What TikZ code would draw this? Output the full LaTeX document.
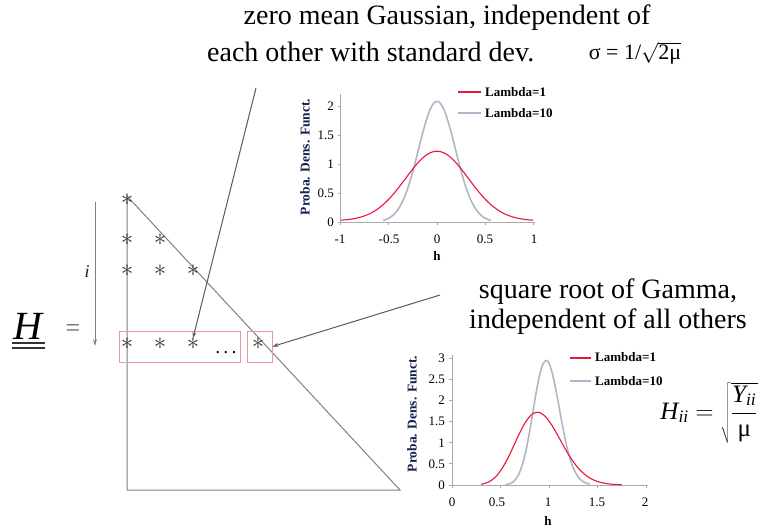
\documentclass[tikz,border=0pt]{standalone}
\usepackage{fontspec}
\setmainfont{Liberation Serif}
\usetikzlibrary{arrows.meta}
\definecolor{lgray}{RGB}{128,128,128}
\definecolor{axgray}{RGB}{170,170,170}
\definecolor{pinkbox}{RGB}{238,150,160}
\definecolor{redcurve}{RGB}{235,20,60}
\definecolor{graycurve}{RGB}{180,180,200}
\definecolor{starcol}{RGB}{55,55,55}
\definecolor{navy}{RGB}{20,30,80}
\begin{document}
\begin{tikzpicture}[x=1pt,y=-1pt,
  bigtext/.style={font=\fontsize{28}{30}\selectfont, inner sep=0pt},
  starnode/.style={font=\fontsize{28}{28}\selectfont, text=starcol, inner sep=0pt},
  rectbox/.style={draw=pinkbox, line width=0.9pt, inner sep=0pt},
  mline/.style={draw=lgray, line width=1pt},
  arr/.style={draw=lgray!70!black, line width=1pt, -{Stealth[length=6pt,width=4pt]}},
  tick/.style={font=\fontsize{13}{13}\selectfont, inner sep=1pt},
  leg/.style={font=\bfseries\fontsize{13}{13}\selectfont, anchor=west, inner sep=0pt},
  ylab/.style={font=\bfseries\fontsize{13.5}{14}\selectfont, rotate=90, inner sep=0pt, text=navy},
  axis/.style={draw=axgray, line width=0.8pt},
  rcurve/.style={draw=redcurve, line width=1.1pt},
  gcurve/.style={draw=graycurve, line width=1.6pt}
]
\useasboundingbox (0,0) rectangle (760,531);

% top caption
\node[bigtext] (t1) at (447,18) {zero mean Gaussian, independent of};
\node[bigtext, anchor=west] (t2) at (207,52) {each other with standard dev.};
\node[font=\fontsize{22}{22}\selectfont, inner sep=0pt] (sig) at (635,53) {σ = 1/$\sqrt{\mbox{2μ}}$};

% right caption
\node[bigtext] (g1) at (608,292) {square root of Gamma,};
\node[bigtext] (g2) at (608,322) {independent of all others};
\node[font=\fontsize{25}{25}\selectfont, inner sep=0pt] (hii) at (709,413)
  {$\mathit{H}_{\mathit{ii}} = \sqrt{\displaystyle\frac{\mathit{Y}_{\mathit{ii}}}{\mbox{μ}}}$};

% matrix triangle
\draw[mline] (127,196) -- (127,490) -- (400,490) -- cycle;

% asterisks
\node[starnode] (a11) at (127,200) {$\ast$};
\node[starnode] (a21) at (127,240) {$\ast$};
\node[starnode] (a22) at (160,240) {$\ast$};
\node[starnode] (a31) at (127,271) {$\ast$};
\node[starnode] (a32) at (160,271) {$\ast$};
\node[starnode] (a33) at (193,271) {$\ast$};
\node[starnode] (a41) at (127,344) {$\ast$};
\node[starnode] (a42) at (160,344) {$\ast$};
\node[starnode] (a43) at (193,344) {$\ast$};
\node[starnode] (a44) at (258,344) {$\ast$};
\node[font=\bfseries\fontsize{14}{14}\selectfont, inner sep=0pt] (dots) at (226,353) {. . .};

% pink boxes
\node[rectbox, minimum width=121pt, minimum height=31pt] (rowbox) at (179.5,346.5) {};
\node[rectbox, minimum width=25pt, minimum height=31pt] (diagbox) at (259.5,346.5) {};

% H =
\node[font=\itshape\fontsize{40}{40}\selectfont, inner sep=0pt] (H) at (28,326) {H};
\draw[draw=black!80, line width=1.1pt] (12,343) -- (45,343) (12,348) -- (45,348);
\node[font=\fontsize{26}{26}\selectfont, text=lgray!80!black, inner sep=0pt] (eq) at (73,331) {=};

% i arrow
\coordinate (itop) at (95,202);
\coordinate (ibot) at (95,346);
\draw[arr, draw=lgray, -{Stealth[length=7pt,width=4pt]}] (itop) -- (ibot);
\node[font=\itshape\fontsize{18}{18}\selectfont, text=navy, inner sep=0pt] (ilab) at (87,272) {i};

% pointer arrows
\coordinate (p1) at (256,88);
\coordinate (p2) at (440,295);
\draw[arr] (p1) -- (a43.north);
\draw[arr] (p2) -- (diagbox.east);

% ---------- top chart ----------
\begin{scope}[shift={(437,222)}, xscale=96.5, yscale=-58]
  \draw[axis] (-1,0) -- (1.02,0);
  \draw[axis] (-1,0) -- (-1,2.2);
  \foreach \v in {0,0.5,1,1.5,2} \draw[axis] (-1.03,\v) -- (-1,\v);
  \foreach \v in {-1,-0.5,0,0.5,1} \draw[axis] (\v,0) -- (\v,-0.06);
  \draw[gcurve] plot[domain=-0.56:0.56, samples=90, smooth] (\x,{2.08*exp(-\x*\x/(2*0.0361))});
  \draw[rcurve] plot[domain=-1:1, samples=100, smooth] (\x,{0.02+1.2*exp(-\x*\x/(2*0.1069))});
\end{scope}
\foreach \v/\y in {0/222,0.5/193,1/164,1.5/135,2/106}
  \node[tick, anchor=east] (ty\y) at (335,\y) {\v};
\foreach \v/\x in {-1/340,-0.5/389,0/437,0.5/485,1/534}
  \node[tick] (tx\x) at (\x,239) {\v};
\node[font=\bfseries\fontsize{13}{13}\selectfont, inner sep=0pt] (h1) at (437,256) {h};
\node[ylab] (yl1) at (305,157) {Proba. Dens. Funct.};
\coordinate (l1a) at (458,92); \coordinate (l1b) at (481,92);
\draw[rcurve] (l1a) -- (l1b);
\node[leg] (l1) at (485,92) {Lambda=1};
\coordinate (l2a) at (458,113); \coordinate (l2b) at (481,113);
\draw[gcurve] (l2a) -- (l2b);
\node[leg] (l2) at (485,113) {Lambda=10};

% ---------- bottom chart ----------
\begin{scope}[shift={(452,485)}, xscale=97, yscale=-42.3]
  \draw[axis] (0,0) -- (2.02,0);
  \draw[axis] (0,0) -- (0,3.08);
  \foreach \v in {0,0.5,1,1.5,2,2.5,3} \draw[axis] (-0.03,\v) -- (0,\v);
  \foreach \v in {0,0.5,1,1.5,2} \draw[axis] (\v,0) -- (\v,-0.08);
  \draw[gcurve] plot[domain=0.55:1.42, samples=90, smooth] (\x,{2.95*exp(25.8*ln(\x/0.97)-12.9*((\x/0.97)^2-1))});
  \draw[rcurve] plot[domain=0.3:1.75, samples=100, smooth] (\x,{1.72*exp(7.2*ln(\x/0.88)-3.6*((\x/0.88)^2-1))});
\end{scope}
\foreach \v/\y in {0/485,0.5/464,1/443,1.5/421,2/400,2.5/379,3/358}
  \node[tick, anchor=east] (by\y) at (446,\y) {\v};
\foreach \v/\x in {0/452,0.5/497,1/548,1.5/597,2/645}
  \node[tick] (bx\x) at (\x,502) {\v};
\node[font=\bfseries\fontsize{13}{13}\selectfont, inner sep=0pt] (h2) at (548,521) {h};
\node[ylab] (yl2) at (412,414) {Proba. Dens. Funct.};
\coordinate (m1a) at (570,358); \coordinate (m1b) at (591,358);
\draw[draw=redcurve, line width=1.3pt] (m1a) -- (m1b);
\node[leg] (m1) at (595,357) {Lambda=1};
\coordinate (m2a) at (570,381); \coordinate (m2b) at (591,381);
\draw[gcurve] (m2a) -- (m2b);
\node[leg] (m2) at (595,381) {Lambda=10};
\end{tikzpicture}
\end{document}
